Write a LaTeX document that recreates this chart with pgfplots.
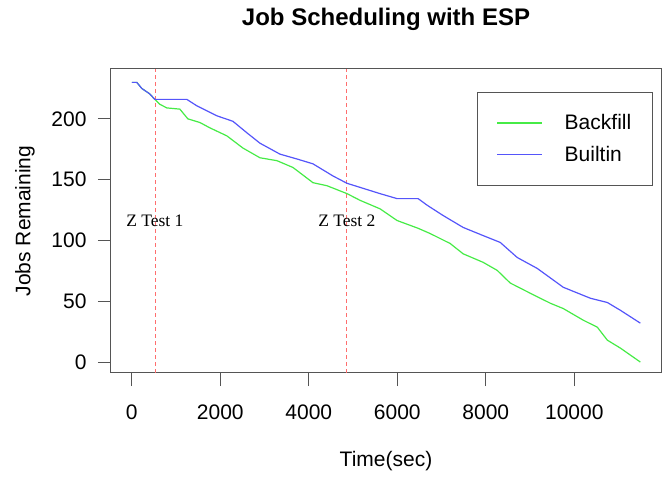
\documentclass[border=0pt]{standalone}
\usepackage{pgfplots}
\pgfplotsset{compat=1.18}
\usepackage{fontspec}
\setmainfont{Liberation Sans}
\newfontfamily\timesf{Liberation Serif}

\definecolor{backfill}{RGB}{70,235,70}
\definecolor{builtin}{RGB}{85,85,250}
\definecolor{ztest}{RGB}{255,110,110}
\definecolor{frame}{RGB}{85,85,85}

\pgfplotstableread{
x y
0 230
113 230
226 225
407 220.5
520 216
1244 216
1471 210.7
1923 202.5
2285 198
2602 188.5
2896 180
3348 171
3733 167
4095 163
4548 153
4864 147
5611 138.5
5995 134.4
6471 134.4
6674 129
7036 120.5
7489 110.7
7941 104
8326 98.4
8710 86
9163 77
9751 61.5
10362 52.5
10747 49
11041 42.6
11493 32
}\builtindata

\pgfplotstableread{
x y
0 230
113 230
226 225
407 220.5
520 216
633 212
792 209
1086 208
1267 200
1538 197
1765 192.6
2149 186
2511 176
2896 168
3281 165.6
3643 160
4095 147.5
4412 145
4864 138.5
5158 133
5611 126
5995 116.4
6471 110
6742 105.7
7195 97.5
7489 89
7941 82
8258 75.4
8552 65
9005 56.6
9457 48.4
9751 44
10204 34.4
10520 28.7
10747 18
11041 11.5
11493 0
}\backfilldata

\pgfplotstableread{
x ylo yhi
536 -9 241
4860 -9 241
}\ztestdata

\begin{document}
\begin{tikzpicture}
\path[use as bounding box] (-111pt,-105pt) rectangle (552pt,373pt);
\begin{axis}[
  scale only axis,
  width=550pt, height=304pt,
  xmin=-470, xmax=11960,
  ymin=-9, ymax=241,
  axis line style={frame, line width=1pt},
  xtick={0,2000,...,10000},
  ytick={0,50,...,200},
  scaled x ticks=false,
  xticklabel style={/pgf/number format/1000 sep={}},
  tick align=outside,
  xtick pos=bottom, ytick pos=left,
  major tick length=13pt,
  tick style={frame, line width=1pt},
  /pgf/number format/assume math mode=true,
  ticklabel style={font=\fontsize{21}{21}\selectfont},
  xticklabel style={anchor=center, yshift=-26pt},
  yticklabel style={anchor=east, xshift=-8pt},
  xlabel={Time(sec)},
  ylabel={Jobs Remaining},
  label style={font=\fontsize{21}{21}\selectfont},
  xlabel style={at={(axis description cs:0.5,0)}, anchor=center, yshift=-88pt},
  ylabel style={at={(axis description cs:-0.1564,0.5)}, anchor=center},
  title={Job Scheduling with ESP},
  title style={font=\fontsize{24}{24}\bfseries\selectfont, at={(axis description cs:0.5,1)}, anchor=center, yshift=44pt},
  legend style={at={(0.6655,0.924)}, anchor=north west, draw=frame, line width=1pt,
    font=\fontsize{21}{21}\selectfont, inner xsep=19pt, inner ysep=20pt, row sep=11pt,
    column sep=20pt, nodes={inner sep=2pt}},
  legend cell align=left,
  legend image code/.code={\draw[#1] (0pt,0pt) -- (45pt,0pt);},
]
\addplot[draw=ztest, line width=1.2pt, dash pattern=on 4pt off 3pt, forget plot] coordinates {(4860,-9) (4860,241)};
\addplot[draw=ztest, line width=1.2pt, dash pattern=on 4pt off 3pt, forget plot] coordinates {(536,-9) (536,241)};
\addplot[backfill, line width=1.2pt] table {\backfilldata};
\addlegendentry{Backfill}
\addplot[builtin, line width=1.2pt] table {\builtindata};
\addlegendentry{Builtin}
\node[font=\timesf\fontsize{17.5}{17.5}\selectfont] at (axis cs:520,116) {Z Test 1};
\node[font=\timesf\fontsize{17.5}{17.5}\selectfont] at (axis cs:4860,116) {Z Test 2};
\end{axis}
\end{tikzpicture}
\end{document}
